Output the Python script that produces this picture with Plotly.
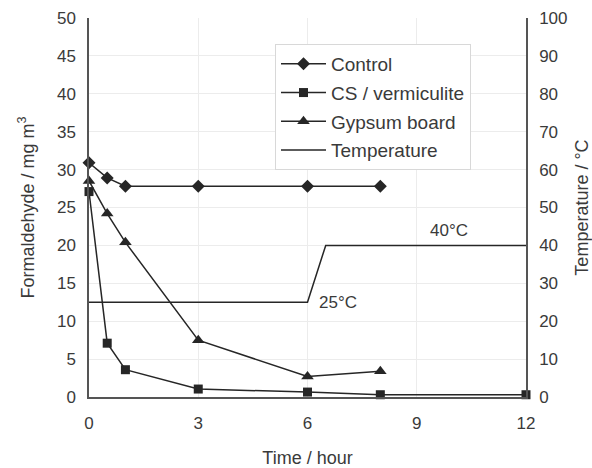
import plotly.graph_objects as go

time_control = [0, 0.5, 1, 3, 6, 8]
control = [30.9, 28.9, 27.8, 27.8, 27.8, 27.8]
time_cs = [0, 0.5, 1, 3, 6, 8, 12]
cs_vermiculite = [27.1, 7.1, 3.6, 1.05, 0.65, 0.3, 0.3]
time_gypsum = [0, 0.5, 1, 3, 6, 8]
gypsum = [28.5, 24.2, 20.4, 7.5, 2.7, 3.4]
time_temp = [0, 6, 6.5, 12]
temperature = [25, 25, 40, 40]

FONT = "Liberation Sans, Arial, sans-serif"
LINE = "#262626"
TXT = "#3a3a3a"

fig = go.Figure()
fig.add_trace(go.Scatter(x=time_control, y=control, name="Control", mode="lines+markers",
                         legendgroup="a",
                         line=dict(color=LINE, width=1.5),
                         marker=dict(symbol="diamond", size=10, color=LINE), cliponaxis=False))
fig.add_trace(go.Scatter(x=time_cs, y=cs_vermiculite, name="CS / vermiculite", mode="lines+markers",
                         legendgroup="b",
                         line=dict(color=LINE, width=1.5),
                         marker=dict(symbol="square", size=9, color=LINE), cliponaxis=False))
fig.add_trace(go.Scatter(x=time_gypsum, y=gypsum, name="Gypsum board", mode="lines+markers",
                         legendgroup="c",
                         line=dict(color=LINE, width=1.5),
                         marker=dict(symbol="triangle-up", size=11, color=LINE), cliponaxis=False))
fig.add_trace(go.Scatter(x=time_temp, y=temperature, name="Temperature", mode="lines",
                         legendgroup="d",
                         line=dict(color=LINE, width=1.5), yaxis="y2", cliponaxis=False))

fig.add_annotation(x=9.3, y=40, yref="y2", text="40°C", showarrow=False,
                   yanchor="bottom", xanchor="left", yshift=3, font=dict(size=17, color=TXT, family=FONT))
fig.add_annotation(x=6.25, y=25, yref="y2", text="25°C", showarrow=False,
                   yanchor="middle", xanchor="left", yshift=0, font=dict(size=17, color=TXT, family=FONT))

fig.update_layout(
    width=592, height=468,
    margin=dict(l=89, r=66, t=18, b=71, autoexpand=False),
    paper_bgcolor="white", plot_bgcolor="white",
    font=dict(family=FONT, size=17, color=TXT),
    showlegend=True,
    legend=dict(x=(275 - 89) / 437, y=(397 - 44) / 379, xanchor="left", yanchor="top",
                bgcolor="white", bordercolor="#d8d8d8", borderwidth=1,
                font=dict(size=19, color=TXT, family=FONT),
                tracegroupgap=1, itemwidth=45),
    xaxis=dict(range=[0, 12], tickvals=[0, 3, 6, 9, 12], showgrid=True, gridcolor="#ececec",
               showline=True, linecolor="#555", linewidth=1.5, zeroline=False, automargin=False,
               ticks="outside", ticklen=10, tickcolor="rgba(0,0,0,0)",
               title=dict(text="Time / hour", font=dict(size=18, color=TXT), standoff=19)),
    yaxis=dict(range=[0, 50], dtick=5, showgrid=True, gridcolor="#ececec",
               showline=True, linecolor="#555", linewidth=1.5, zeroline=False, automargin=False,
               ticks="outside", ticklen=8, tickcolor="rgba(0,0,0,0)",
               title=dict(text="Formaldehyde / mg m<sup>3</sup>", font=dict(size=18, color=TXT), standoff=18)),
    yaxis2=dict(range=[0, 100], dtick=10, overlaying="y", side="right", showgrid=False,
                showline=True, linecolor="#555", linewidth=1.5, zeroline=False, automargin=False,
                ticks="outside", ticklen=8, tickcolor="rgba(0,0,0,0)",
                title=dict(text="Temperature / °C", font=dict(size=18, color=TXT), standoff=12)),
)

fig.write_html("out.html")
